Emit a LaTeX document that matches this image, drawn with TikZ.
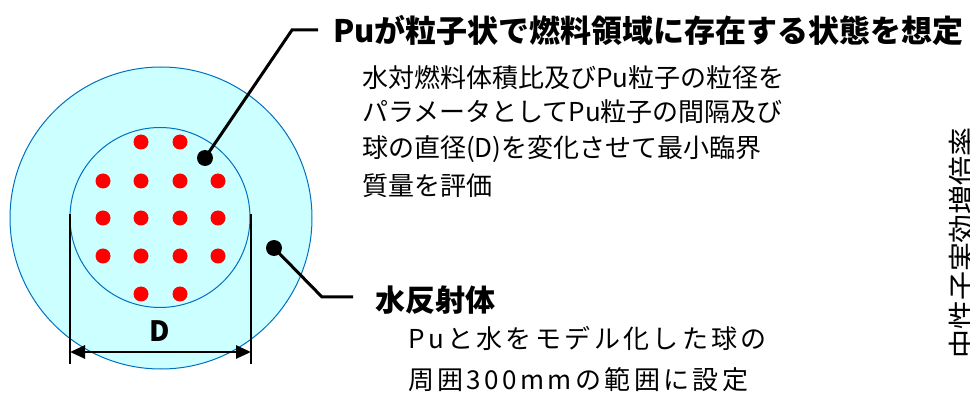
\documentclass[tikz,border=0pt]{standalone}
\usepackage{fontspec}
\setmainfont{Noto Sans CJK JP}
\usetikzlibrary{arrows.meta}
\definecolor{waterfill}{RGB}{204,255,255}
\definecolor{rim}{RGB}{0,112,192}
\begin{document}
\begin{tikzpicture}[x=1pt,y=-1pt,
  pudot/.style={circle,fill=red,inner sep=0pt,minimum size=15pt},
  blackdot/.style={circle,fill=black,inner sep=0pt,minimum size=16pt},
  leader/.style={line width=3pt},
  headtxt/.style={anchor=west,inner sep=0pt,font=\fontsize{31}{34}\selectfont\bfseries},
  bodytxt/.style={anchor=west,inner sep=0pt,font=\fontsize{26}{30}\selectfont},
  spacedtxt/.style={anchor=west,inner sep=0pt,font=\fontsize{26}{30}\selectfont\addfontfeature{LetterSpace=13}},
  dimline/.style={line width=2.6pt}]
\useasboundingbox (0,0) rectangle (970,398);
% reflector and fuel sphere
\draw[rim,fill=waterfill,line width=1pt] (161,218) circle (151);
\draw[rim,fill=waterfill,line width=1pt] (160,217.5) circle (90);
% Pu particles
\foreach \x in {141,180} {\node[pudot] at (\x,142) {};}
\foreach \y in {181,218,256} {\foreach \x in {103,141,180,218} {\node[pudot] at (\x,\y) {};}}
\foreach \x in {141,180} {\node[pudot] at (\x,294) {};}
% dimension D
\coordinate (dl1) at (70,214); \coordinate (dl2) at (70,364);
\coordinate (dr1) at (251,214); \coordinate (dr2) at (251,364);
\draw[dimline] (dl1) -- (dl2);
\draw[dimline] (dr1) -- (dr2);
\coordinate (al) at (70,352); \coordinate (ar) at (251,352);
\draw[dimline,{Triangle[length=15pt,width=13pt]}-{Triangle[length=15pt,width=13pt]}] (al) -- (ar);
\node[font=\fontsize{28}{32}\selectfont\bfseries] (dlab) at (160,331) {D};
% leaders
\node[blackdot] (b1) at (205,158) {};
\coordinate (k1) at (292,30); \coordinate (k1e) at (318,30);
\draw[leader] (b1.center) -- (k1) -- (k1e);
\node[blackdot] (b2) at (274,248) {};
\coordinate (k2) at (322,297); \coordinate (k2e) at (353,297);
\draw[leader] (b2.center) -- (k2) -- (k2e);
% texts
\node[headtxt] (title) at (333,30) {Puが粒子状で燃料領域に存在する状態を想定};
\node[bodytxt] (p1) at (362,78) {水対燃料体積比及びPu粒子の粒径を};
\node[bodytxt] (p2) at (362,112) {パラメータとしてPu粒子の間隔及び};
\node[bodytxt] (p3) at (362,149) {球の直径(D)を変化させて最小臨界};
\node[bodytxt] (p4) at (362,186) {質量を評価};
\node[headtxt,font=\fontsize{30}{34}\selectfont\bfseries] (refl) at (375,300) {水反射体};
\node[spacedtxt] (r1) at (408,338) {Puと水をモデル化した球の};
\node[spacedtxt] (r2) at (408,380) {周囲300mmの範囲に設定};
\node[rotate=90,inner sep=0pt,font=\fontsize{29}{32}\selectfont] (vert) at (963,243) {中性子実効増倍率};
\end{tikzpicture}
\end{document}
